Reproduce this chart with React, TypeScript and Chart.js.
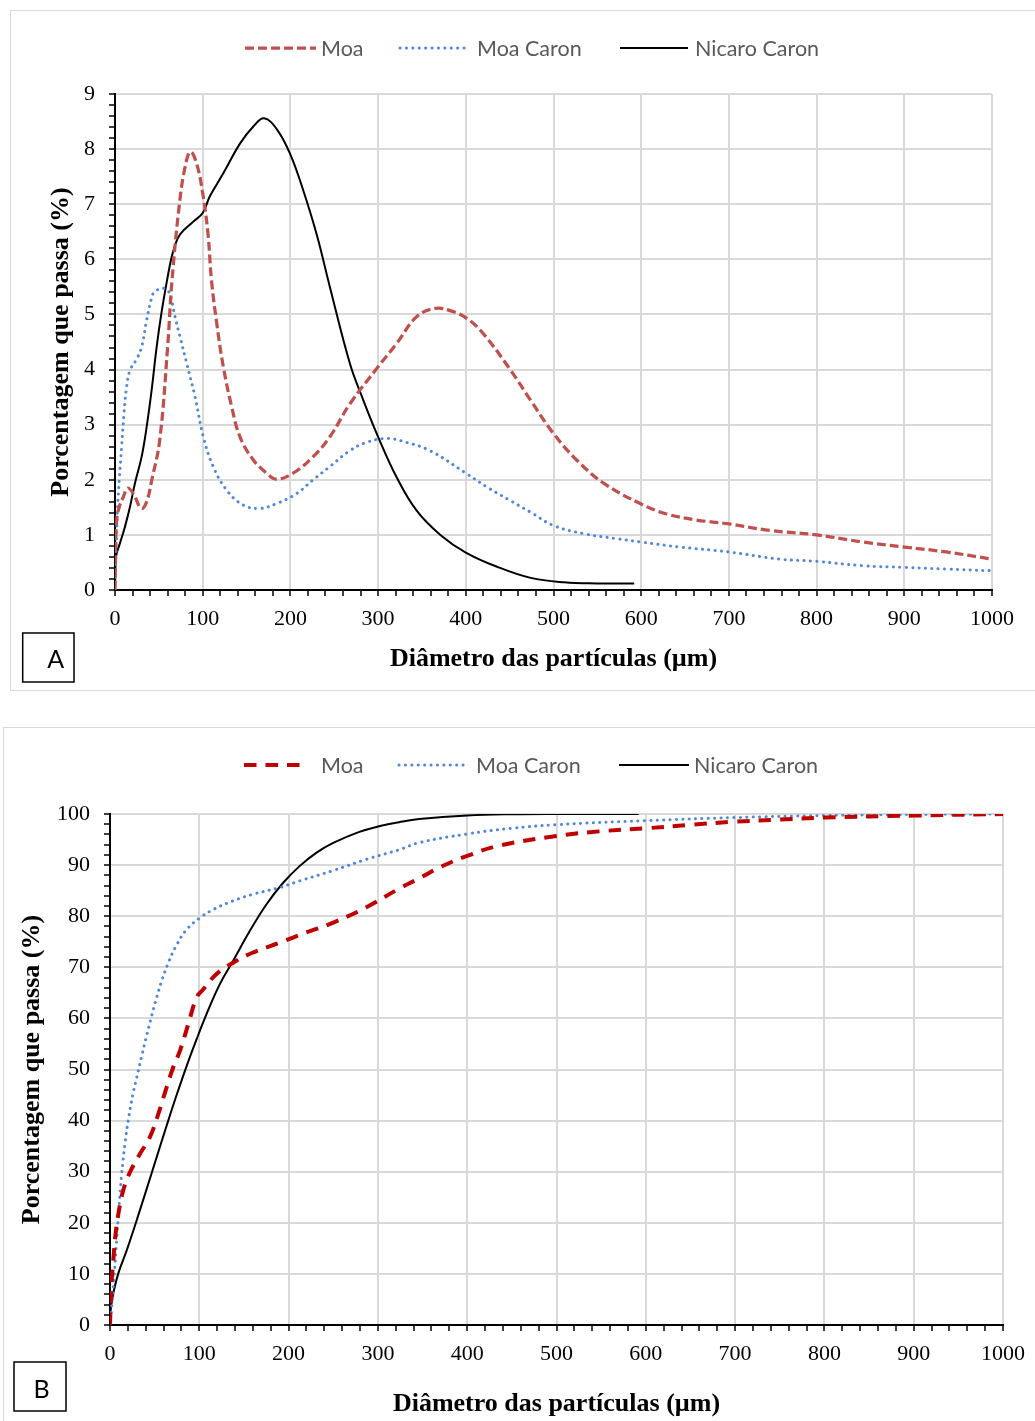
import React, { useEffect, useRef } from 'react';
import { Chart, registerables } from 'chart.js';

Chart.register(...registerables);

// ---------- Shared texts ----------
const SERIES_NAMES = ['Moa', 'Moa Caron', 'Nicaro Caron'];
const X_TITLE = 'Diâmetro das partículas (µm)';
const Y_TITLE = 'Porcentagem que passa (%)';
const PANEL_LETTERS = ['A', 'B'];

// ---------- Chart A (frequency, %) ----------
const moaA_x = [0, 0.8, 1.9, 4.9, 9.5, 14.5, 20.9, 30, 36, 42, 51, 60, 65, 74, 80, 86, 93, 100, 106, 110, 116, 123.5, 133, 142.5, 157.7, 173, 184, 203, 226, 245, 268, 300, 321, 344, 365, 382, 401, 420, 451, 474, 500, 527, 558, 600, 629, 663, 700, 747, 800, 853, 900, 948, 1000];
const moaA_y = [0, 0.79, 1.27, 1.51, 1.69, 1.85, 1.75, 1.48, 1.6, 2.0, 2.72, 4.41, 5.62, 7.08, 7.68, 7.95, 7.74, 7.2, 6.47, 5.62, 4.84, 4.05, 3.33, 2.78, 2.36, 2.12, 2.01, 2.12, 2.42, 2.78, 3.38, 4.05, 4.47, 4.96, 5.11, 5.07, 4.93, 4.65, 3.99, 3.44, 2.84, 2.35, 1.93, 1.56, 1.38, 1.27, 1.2, 1.08, 1.0, 0.87, 0.78, 0.69, 0.56];

const moaCaronA_x = [0, 0.8, 1.9, 3, 4.9, 7.6, 10.3, 13.3, 17.1, 24, 30.4, 36.1, 41.8, 45.6, 57, 62.7, 68.4, 74, 81.8, 91.2, 100.7, 112, 127.4, 146.3, 165.3, 184.4, 207, 226, 245, 268, 287, 310, 332, 359, 400, 424, 451, 474, 500, 535, 573, 600, 644, 700, 758, 800, 853, 900, 948, 1000];
const moaCaronA_y = [0, 0.48, 1.03, 1.51, 2.0, 2.6, 3.21, 3.69, 3.99, 4.17, 4.41, 4.9, 5.3, 5.42, 5.47, 5.36, 4.96, 4.6, 4.11, 3.51, 2.78, 2.24, 1.81, 1.54, 1.48, 1.57, 1.75, 2.0, 2.24, 2.53, 2.68, 2.75, 2.68, 2.53, 2.12, 1.87, 1.62, 1.41, 1.17, 1.02, 0.93, 0.87, 0.78, 0.69, 0.56, 0.52, 0.44, 0.41, 0.38, 0.35];

const nicaroA_x = [0, 1.1, 5.7, 11.4, 17.1, 22.8, 30.4, 36.1, 41.8, 47.5, 53.2, 59.7, 64, 68.4, 74, 89, 100, 108, 123.5, 142.5, 157.7, 170, 185, 200, 214.7, 230, 245, 268, 283, 300, 321, 344, 371, 400, 436, 474, 512, 550, 592];
const nicaroA_y = [0, 0.6, 0.85, 1.15, 1.51, 1.94, 2.42, 2.96, 3.63, 4.41, 5.05, 5.65, 6.0, 6.25, 6.45, 6.68, 6.84, 7.14, 7.56, 8.1, 8.41, 8.56, 8.35, 7.9, 7.25, 6.45, 5.5, 4.1, 3.45, 2.78, 2.05, 1.44, 1.0, 0.68, 0.42, 0.22, 0.14, 0.12, 0.12];

const yMaxA = 9;
const yStepA = 0.2;
const yLabelStepA = 1;

// ---------- Chart B (cumulative, %) ----------
const moaB_x = [0, 0.7, 1.9, 3.7, 6.3, 10.1, 14.9, 22.4, 33.6, 44.8, 54.1, 63.4, 70.9, 78.4, 87.7, 97, 104.5, 119.3, 137.9, 160.2, 190, 219.7, 249.4, 286.6, 323.8, 346.2, 368.6, 400, 435.8, 500, 547.8, 600, 650.9, 700, 749.5, 800, 900, 1000];
const moaB_y = [0, 3.6, 8.8, 12.7, 17.9, 22.5, 26.4, 29.9, 33.5, 36.8, 41.3, 46.5, 50.5, 53.7, 58.9, 64.1, 65.7, 68.7, 70.9, 72.9, 74.8, 76.8, 78.7, 81.7, 85.4, 87.4, 89.5, 91.8, 93.8, 95.7, 96.6, 97.2, 97.9, 98.5, 98.9, 99.3, 99.7, 100];

const moaCaronB_x = [0, 2.6, 4.9, 7.5, 10.1, 13.1, 16.8, 21.3, 26.1, 30, 35.7, 41.3, 46.8, 52.4, 58, 65.4, 74.7, 85.9, 100, 115.6, 137.9, 160.2, 190, 212.3, 249.4, 286.6, 323.8, 346.2, 400, 449.3, 500, 600, 700, 800, 900, 1000];
const moaCaronB_y = [0, 4.9, 10.1, 16.6, 23.1, 29.6, 35.5, 41.0, 45.5, 48.5, 52.8, 56.8, 60.6, 64.2, 67.4, 70.9, 74.4, 77.4, 79.6, 81.3, 83.0, 84.3, 85.6, 86.9, 88.9, 91.1, 93.0, 94.4, 96.1, 97.2, 97.9, 98.7, 99.3, 99.7, 99.9, 100];

const nicaroB_x = [0, 1.1, 3.7, 9.3, 18.7, 29.9, 41, 52.2, 63.4, 74.6, 87.7, 98.9, 108.2, 123, 137.9, 156.5, 175.1, 193.7, 212.3, 230.9, 249.4, 279.2, 301.4, 323.8, 346.2, 400, 450, 500, 592];
const nicaroB_y = [0, 3.6, 6.2, 10.1, 14.6, 20.5, 26.6, 32.8, 39.0, 45.0, 51.6, 56.8, 60.9, 66.7, 71.3, 77.1, 82.3, 86.5, 89.8, 92.4, 94.3, 96.5, 97.6, 98.4, 99.0, 99.7, 99.95, 100, 100];

const yMaxB = 100;
const yStepB = 2;
const yLabelStepB = 10;

// ---------- X axis (both) ----------
const xMax = 1000;
const xStep = 20;
const xLabelStep = 100;

// ---------- helpers ----------
const pts = (xs: number[], ys: number[]) => xs.map((x, i) => ({ x, y: ys[i] }));
const isMult = (v: number, m: number) => Math.abs(v / m - Math.round(v / m)) < 1e-6;

const SERIF = '"Liberation Serif", "Times New Roman", serif';
const SANS = 'Lato, "Open Sans", sans-serif';
const GRID = '#d9d9d9';
const BLUE = '#4f88d8';

const decorPlugin = {
  id: 'decor',
  afterDraw(chart: any, _args: any, o: any) {
    const ctx = chart.ctx as CanvasRenderingContext2D;
    const ca = chart.chartArea;
    ctx.save();
    // legend
    chart.data.datasets.forEach((ds: any, i: number) => {
      ctx.beginPath();
      ctx.strokeStyle = ds.borderColor;
      ctx.lineWidth = ds.borderWidth;
      ctx.lineCap = ds.borderCapStyle || 'butt';
      ctx.setLineDash(ds.borderDash || []);
      ctx.moveTo(o.legStart[i], o.legY);
      ctx.lineTo(o.legEnd[i], o.legY);
      ctx.stroke();
      ctx.setLineDash([]);
      ctx.fillStyle = '#595959';
      ctx.font = '21.5px ' + SANS;
      ctx.textAlign = 'left';
      ctx.textBaseline = 'middle';
      ctx.fillText(ds.label, o.legText[i], o.legY + 1);
    });
    // axis titles
    ctx.fillStyle = '#000';
    ctx.font = 'bold 26px ' + SERIF;
    ctx.textAlign = 'center';
    ctx.textBaseline = 'alphabetic';
    ctx.fillText(X_TITLE, (ca.left + ca.right) / 2, o.xTitleBase);
    ctx.save();
    ctx.translate(o.yTitleBase, (ca.top + ca.bottom) / 2);
    ctx.rotate(-Math.PI / 2);
    ctx.fillText(Y_TITLE, 0, 0);
    ctx.restore();
    // panel letter box
    ctx.lineWidth = 1.5;
    ctx.strokeStyle = '#000';
    ctx.strokeRect(o.box[0], o.box[1], o.box[2], o.box[3]);
    ctx.font = '25px ' + SANS;
    ctx.textAlign = 'center';
    ctx.fillText(o.letter, o.letterX, o.letterBase);
    ctx.restore();
  },
};

function makeConfig(p: any) {
  const common = { showLine: true, pointRadius: 0, tension: 0.4, fill: false };
  return {
    type: 'scatter',
    data: {
      datasets: [
        {
          ...common,
          label: SERIES_NAMES[0],
          data: p.moa,
          borderColor: p.moaColor,
          borderWidth: p.moaWidth,
          borderDash: p.moaDash,
          borderCapStyle: 'butt',
        },
        {
          ...common,
          label: SERIES_NAMES[1],
          data: p.caron,
          borderColor: BLUE,
          borderWidth: 3,
          borderDash: [0.1, 6.3],
          borderCapStyle: 'round',
        },
        {
          ...common,
          label: SERIES_NAMES[2],
          data: p.nicaro,
          borderColor: '#000',
          borderWidth: 2,
          borderDash: [],
        },
      ],
    },
    options: {
      responsive: false,
      animation: false,
      events: [],
      layout: { padding: { left: 0, top: p.padTop, right: p.padRight, bottom: 0 } },
      plugins: {
        legend: { display: false },
        tooltip: { enabled: false },
        decor: p.decor,
      },
      scales: {
        x: {
          type: 'linear',
          min: 0,
          max: xMax,
          afterFit: (s: any) => { s.height = p.xAxisH; },
          border: { display: true, color: '#000', width: 2 },
          grid: {
            color: (c: any) => (c.tick && isMult(c.tick.value, xLabelStep) ? GRID : 'rgba(0,0,0,0)'),
            lineWidth: 2,
            tickColor: '#000',
            tickWidth: 1.5,
            tickLength: 6,
          },
          ticks: {
            stepSize: xStep,
            autoSkip: false,
            maxRotation: 0,
            padding: 10,
            color: '#000',
            font: { family: SERIF, size: 22 },
            callback: (v: number) => (isMult(v, xLabelStep) ? String(Math.round(v)) : ''),
          },
        },
        y: {
          type: 'linear',
          min: 0,
          max: p.yMax,
          afterFit: (s: any) => { s.width = p.yAxisW; },
          border: { display: true, color: '#000', width: 2 },
          grid: {
            color: (c: any) => (c.tick && isMult(c.tick.value, p.yLabelStep) ? GRID : 'rgba(0,0,0,0)'),
            lineWidth: 2,
            tickColor: '#000',
            tickWidth: 1.5,
            tickLength: 6,
          },
          ticks: {
            stepSize: p.yStep,
            autoSkip: false,
            padding: p.yPad,
            color: '#000',
            font: { family: SERIF, size: 22 },
            callback: (v: number) => (isMult(v, p.yLabelStep) ? String(Math.round(v)) : ''),
          },
        },
      },
    },
    plugins: [decorPlugin],
  } as any;
}

export default function App() {
  const refA = useRef<HTMLCanvasElement>(null);
  const refB = useRef<HTMLCanvasElement>(null);

  useEffect(() => {
    const cA = new Chart(
      refA.current as HTMLCanvasElement,
      makeConfig({
        moa: pts(moaA_x, moaA_y),
        caron: pts(moaCaronA_x, moaCaronA_y),
        nicaro: pts(nicaroA_x, nicaroA_y),
        moaColor: '#c0504d',
        moaWidth: 3.25,
        moaDash: [9, 4],
        yMax: yMaxA,
        yStep: yStepA,
        yLabelStep: yLabelStepA,
        padTop: 84,
        padRight: 43,
        xAxisH: 100,
        yAxisW: 105,
        yPad: 14,
        decor: {
          legY: 38,
          legStart: [235, 390, 610],
          legEnd: [306, 460, 678],
          legText: [311, 467, 685],
          xTitleBase: 656,
          yTitleBase: 58,
          box: [12.7, 623, 51.3, 49],
          letter: PANEL_LETTERS[0],
          letterX: 45.8,
          letterBase: 658,
        },
      })
    );
    const cB = new Chart(
      refB.current as HTMLCanvasElement,
      makeConfig({
        moa: pts(moaB_x, moaB_y),
        caron: pts(moaCaronB_x, moaCaronB_y),
        nicaro: pts(nicaroB_x, nicaroB_y),
        moaColor: '#c00000',
        moaWidth: 4,
        moaDash: [12.5, 9],
        yMax: yMaxB,
        yStep: yStepB,
        yLabelStep: yLabelStepB,
        padTop: 87,
        padRight: 28,
        xAxisH: 96,
        yAxisW: 107,
        yPad: 14,
        decor: {
          legY: 38,
          legStart: [241, 396, 616],
          legEnd: [303, 466, 686],
          legText: [318, 473, 691],
          xTitleBase: 684,
          yTitleBase: 36,
          box: [11, 635, 52, 49],
          letter: PANEL_LETTERS[1],
          letterX: 38.5,
          letterBase: 671,
        },
      })
    );
    return () => {
      cA.destroy();
      cB.destroy();
    };
  }, []);

  return (
    <div style={{ position: 'absolute', left: 0, top: 0, width: 1035, height: 1421, overflow: 'hidden', background: '#fff' }}>
      <div style={{ position: 'absolute', left: 10, top: 10, width: 1060, height: 679, border: '1px solid #d9d9d9' }} />
      <canvas ref={refA} width={1025} height={680} style={{ position: 'absolute', left: 10, top: 10, display: 'block' }} />
      <div style={{ position: 'absolute', left: 3, top: 727, width: 1060, height: 720, border: '1px solid #d9d9d9' }} />
      <canvas ref={refB} width={1032} height={694} style={{ position: 'absolute', left: 3, top: 727, display: 'block' }} />
    </div>
  );
}
